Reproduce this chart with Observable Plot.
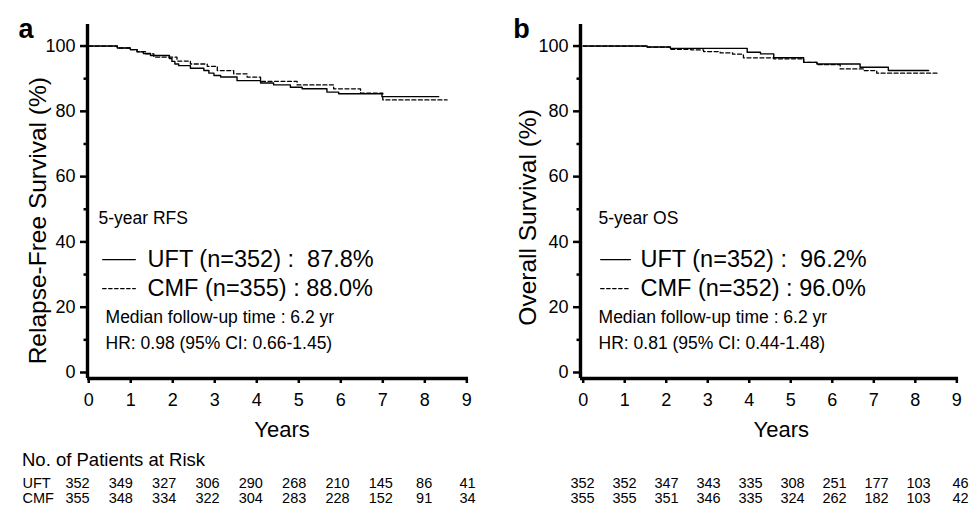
<!DOCTYPE html>
<html><head><meta charset="utf-8">
<script src="https://cdn.jsdelivr.net/npm/d3@7"></script>
<script src="https://cdn.jsdelivr.net/npm/@observablehq/plot@0.6"></script>
<style>
body{margin:0;background:#fff;font-family:"Liberation Sans",Arial,sans-serif;color:#000}
#root{position:relative;width:974px;height:510px;overflow:hidden;background:#fff}
.abs{position:absolute}
</style></head><body><div id="root"></div>
<script>
// ---- data ----
const xTicks = [0,1,2,3,4,5,6,7,8,9];
const yTicksMajor = [0,20,40,60,80,100];
const yTicksMinor = [10,30,50,70,90];

// Kaplan-Meier steps [years, survival %]
const rfsUFT = [[0,100],[0.68,99.4],[0.99,98.9],[1.15,98.2],[1.3,97.7],[1.47,97.1],[1.92,96.2],[1.98,95.3],[2.05,94.5],[2.14,94.0],[2.42,93.2],[2.74,92.5],[2.86,91.7],[2.98,91.0],[3.14,90.5],[3.53,89.4],[4.09,88.7],[4.4,88.1],[4.8,87.4],[5.08,86.9],[5.67,85.9],[5.95,85.4],[6.98,84.5],[8.33,84.5]];
const rfsCMF = [[0,100],[0.68,99.4],[0.99,98.9],[1.15,98.3],[1.35,97.6],[1.55,96.6],[2.1,95.4],[2.42,94.5],[2.82,93.8],[3.06,92.5],[3.45,91.5],[3.77,90.5],[4.09,89.2],[4.96,88.1],[5.83,86.9],[6.47,85.6],[7.0,83.5],[8.53,83.5]];
const osUFT = [[0,100],[1.54,99.7],[2.1,99.3],[3.95,98.1],[4.27,97.6],[4.59,96.4],[5.31,95.0],[5.63,94.5],[6.67,93.5],[7.35,92.5],[8.32,92.5]];
const osCMF = [[0,100],[1.54,99.7],[2.1,99.0],[2.6,98.8],[2.9,98.3],[3.3,97.9],[3.6,97.5],[3.86,96.4],[4.59,96.1],[5.31,95.0],[5.63,94.3],[6.19,93.0],[6.75,92.5],[7.07,91.7],[8.52,91.7]];

// patients at risk
const riskYears = [0,1,2,3,4,5,6,7,8,9];
const riskGroups = ["UFT","CMF"];
const uftRiskA = [352,349,327,306,290,268,210,145,86,41];
const cmfRiskA = [355,348,334,322,304,283,228,152,91,34];
const uftRiskB = [352,352,347,343,335,308,251,177,103,46];
const cmfRiskB = [355,355,351,346,335,324,262,182,103,42];

// texts
const panelA = {letter:"a", ylabel:"Relapse-Free Survival (%)", head:"5-year RFS",
  uft:"UFT (n=352) :\u00a0\u00a087.8%", cmf:"CMF (n=355) : 88.0%",
  med:"Median follow-up time : 6.2 yr", hr:"HR: 0.98 (95% CI: 0.66-1.45)"};
const panelB = {letter:"b", ylabel:"Overall Survival (%)", head:"5-year OS",
  uft:"UFT (n=352) :\u00a0\u00a096.2%", cmf:"CMF (n=352) : 96.0%",
  med:"Median follow-up time : 6.2 yr", hr:"HR: 0.81 (95% CI: 0.44-1.48)"};
const xLabel = "Years";
const riskTitle = "No. of Patients at Risk";

const FONT = "'Liberation Sans', Arial, sans-serif";
const Y_DOMAIN = [-1.84, 106.6];

function panel(cfg) {
  const {txt, uft, cmf, xmin, mL, mR, L} = cfg;
  return Plot.plot({
    width: 487, height: 440,
    marginLeft: mL, marginRight: mR, marginTop: 24, marginBottom: 62,
    x: {domain: [xmin, 9.04], label: null},
    y: {domain: Y_DOMAIN, label: null},
    style: {fontFamily: FONT, color: "black", background: "white", overflow: "visible"},
    marks: [
      Plot.axisY({ticks: yTicksMajor, tickSize: 7, tickPadding: 5, fontSize: 18, stroke: "black", strokeWidth: 2.5, strokeOpacity: 1, label: null}),
      Plot.axisY({ticks: yTicksMinor, tickSize: 3.5, tickFormat: () => "", stroke: "black", strokeWidth: 2.5, strokeOpacity: 1, label: null}),
      Plot.axisX({ticks: xTicks, tickSize: 5, tickPadding: 10, fontSize: 18, stroke: "black", strokeWidth: 2.5, strokeOpacity: 1, label: null}),
      Plot.ruleX([xmin], {stroke: "black", strokeWidth: 3.4}),
      Plot.ruleY([Y_DOMAIN[0]], {stroke: "black", strokeWidth: 3.4}),
      Plot.line(cmf, {x: d => d[0], y: d => d[1], curve: "step-after", stroke: "black", strokeWidth: 1.3, strokeDasharray: "4,2.5"}),
      Plot.line(uft, {x: d => d[0], y: d => d[1], curve: "step-after", stroke: "black", strokeWidth: 1.4}),
      // legend
      Plot.text([txt.head], {x: L.head, y: 47.2, textAnchor: "start", fontSize: 17.5}),
      Plot.line([[L.s1, 34.6],[L.s2, 34.6]], {x: d => d[0], y: d => d[1], stroke: "black", strokeWidth: 1.2}),
      Plot.line([[L.s1, 25.7],[L.s2, 25.7]], {x: d => d[0], y: d => d[1], stroke: "black", strokeWidth: 1.2, strokeDasharray: "3.5,2.5"}),
      Plot.text([txt.uft], {x: L.t, y: 34.6, textAnchor: "start", fontSize: 23.5}),
      Plot.text([txt.cmf], {x: L.t, y: 25.7, textAnchor: "start", fontSize: 23.5}),
      Plot.text([txt.med], {x: L.med, y: 16.8, textAnchor: "start", fontSize: 17.5}),
      Plot.text([txt.hr], {x: L.med, y: 8.9, textAnchor: "start", fontSize: 17.5}),
      // axis titles
      Plot.text([txt.ylabel], {x: xmin, y: cfg.yLabY, dx: cfg.yLabDx, rotate: -90, fontSize: 24.5}),
      Plot.text([xLabel], {x: cfg.xLabX, frameAnchor: "bottom", lineAnchor: "middle", dy: 51, fontSize: 22}),
      Plot.text([txt.letter], {frameAnchor: "top-left", textAnchor: "middle", lineAnchor: "middle", dx: cfg.letterDx, dy: 4.4, fontSize: 27, fontWeight: "bold"})
    ]
  });
}

function table(cfg) {
  const rows = [];
  riskYears.forEach((yr, i) => {
    rows.push({yr, g: "UFT", n: cfg.uft[i]});
    rows.push({yr, g: "CMF", n: cfg.cmf[i]});
  });
  const marks = [Plot.text(rows, {x: "yr", y: "g", text: d => String(d.n), fontSize: 14.5})];
  if (cfg.labels) marks.push(Plot.text(riskGroups, {y: d => d, frameAnchor: "left", dx: cfg.labelDx, textAnchor: "start", fontSize: 14.5}));
  return Plot.plot({
    width: 487, height: 70,
    marginLeft: cfg.mL, marginRight: cfg.mR, marginTop: 43, marginBottom: 12,
    x: {domain: [0, 9], axis: null},
    y: {type: "point", domain: riskGroups, padding: 0, axis: null},
    style: {fontFamily: FONT, color: "black", background: "white", overflow: "visible"},
    marks
  });
}

const root = document.getElementById("root");
function place(el, left, top) { el.classList.add("abs"); el.style.left = left + "px"; el.style.top = top + "px"; root.appendChild(el); return el; }

place(panel({txt: panelA, uft: rfsUFT, cmf: rfsCMF, xmin: -0.03, mL: 87, mR: 19,
  L: {head: 0.23, s1: 0.33, s2: 1.11, t: 1.40, med: 0.40}, yLabY: 46.5, yLabDx: -49, xLabX: 4.6, letterDx: -61.5}), 0, 0);
place(panel({txt: panelB, uft: osUFT, cmf: osCMF, xmin: -0.065, mL: 93, mR: 16,
  L: {head: 0.37, s1: 0.42, s2: 1.14, t: 1.38, med: 0.37}, yLabY: 47.5, yLabDx: -52, xLabX: 4.77, letterDx: -59}), 487, 0);

place(table({uft: uftRiskA, cmf: cmfRiskA, mL: 77, mR: 20, labels: true, labelDx: -55}), 0, 440);
place(table({uft: uftRiskB, cmf: cmfRiskB, mL: 95, mR: 14, labels: false}), 487, 440);

const head = document.createElement("div");
head.textContent = riskTitle;
head.style.cssText = "font-size:18.5px;line-height:20px;white-space:nowrap";
place(head, 22, 450);
</script></body></html>
